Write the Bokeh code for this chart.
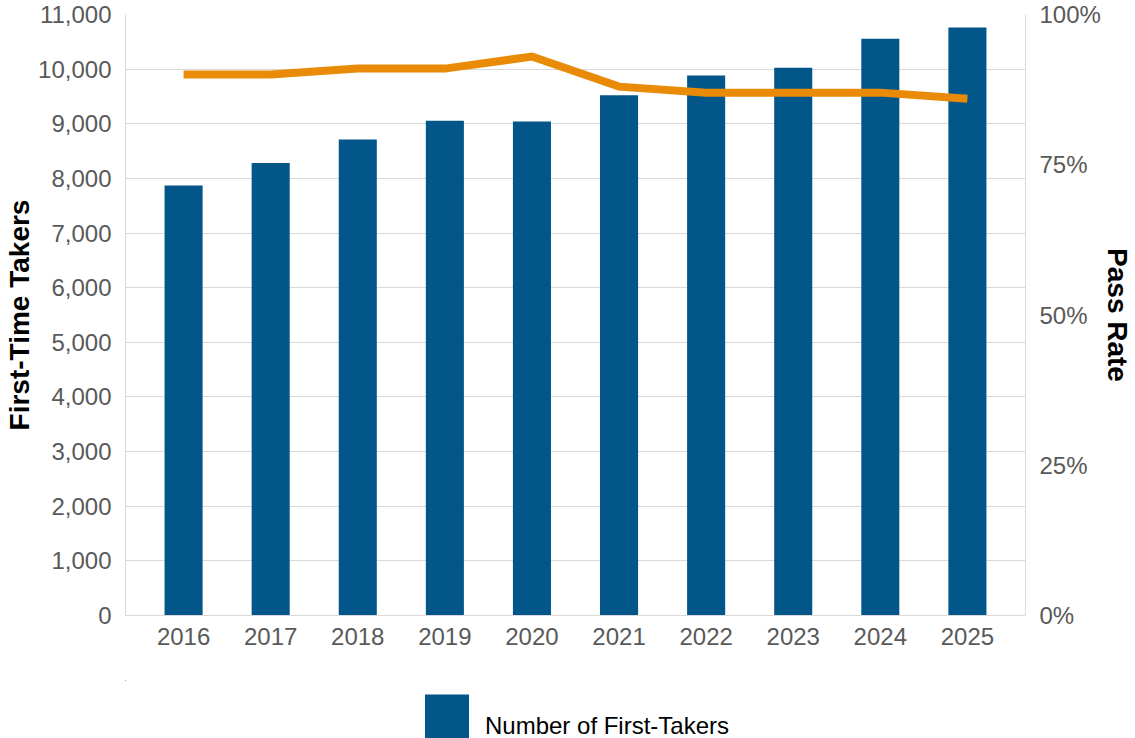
from bokeh.plotting import figure
from bokeh.layouts import column
from bokeh.models import (Range1d, LinearAxis, FixedTicker, NumeralTickFormatter,
                          Legend, LegendItem, ColumnDataSource)
from bokeh.embed import file_html
from bokeh.resources import INLINE

# ---- data ----
years = [2016, 2017, 2018, 2019, 2020, 2021, 2022, 2023, 2024, 2025]
first_takers = [7870, 8280, 8710, 9055, 9040, 9520, 9885, 10025, 10555, 10760]
pass_rate = [0.90, 0.90, 0.91, 0.91, 0.93, 0.88, 0.87, 0.87, 0.87, 0.86]
left_ticks = [0, 1000, 2000, 3000, 4000, 5000, 6000, 7000, 8000, 9000, 10000, 11000]
right_ticks = [0, 0.25, 0.5, 0.75, 1.0]
legend_label = "Number of First-Takers"

FONT = "Liberation Sans"
BAR = "#02568A"
ORANGE = "#E98B07"
GRID = "#D9D9D9"
TICK = "#595959"

src = ColumnDataSource(dict(year=years, takers=first_takers, rate=pass_rate))

p = figure(width=1135, height=680, output_backend="svg", toolbar_location=None,
           x_range=Range1d(years[0] - 0.667, years[-1] + 0.667),
           y_range=Range1d(0, 11000),
           min_border_left=125, min_border_right=110,
           min_border_top=14, min_border_bottom=65)
p.extra_y_ranges = {"rate": Range1d(0, 1)}
p.outline_line_color = None
p.background_fill_color = "white"
p.border_fill_color = "white"

bars = p.vbar(x="year", top="takers", width=0.437, source=src,
              fill_color=BAR, line_color=None)
p.line(x="year", y="rate", source=src, y_range_name="rate",
       line_color=ORANGE, line_width=8, line_join="miter")

# x axis
xa = p.xaxis[0]
xa.ticker = FixedTicker(ticks=years)
xa.axis_line_color = GRID
xa.major_tick_line_color = None
xa.minor_tick_line_color = None
xa.major_label_text_font = FONT
xa.major_label_text_font_size = "24px"
xa.major_label_text_color = TICK
xa.major_label_standoff = 6

# left axis
ya = p.yaxis[0]
ya.ticker = FixedTicker(ticks=left_ticks)
ya.formatter = NumeralTickFormatter(format="0,0")
ya.axis_line_color = GRID
ya.major_tick_line_color = None
ya.minor_tick_line_color = None
ya.major_label_text_font = FONT
ya.major_label_text_font_size = "24px"
ya.major_label_text_color = TICK
ya.major_label_standoff = 8
ya.axis_label = "First-Time Takers"
ya.axis_label_text_font = FONT
ya.axis_label_text_font_size = "28px"
ya.axis_label_text_font_style = "bold"
ya.axis_label_text_color = "black"
ya.axis_label_standoff = 0

# right axis
ra = LinearAxis(y_range_name="rate", ticker=FixedTicker(ticks=right_ticks),
                formatter=NumeralTickFormatter(format="0%"))
ra.axis_line_color = GRID
ra.major_tick_line_color = None
ra.minor_tick_line_color = None
ra.major_label_text_font = FONT
ra.major_label_text_font_size = "24px"
ra.major_label_text_color = TICK
ra.major_label_standoff = 8
ra.axis_label = "Pass Rate"
ra.axis_label_text_font = FONT
ra.axis_label_text_font_size = "28px"
ra.axis_label_text_font_style = "bold"
ra.axis_label_text_color = "black"
ra.axis_label_standoff = -2
p.add_layout(ra, "right")

p.xgrid.visible = False
p.ygrid.ticker = FixedTicker(ticks=left_ticks)
p.ygrid.grid_line_color = GRID
p.ygrid.grid_line_width = 1

# ---- legend strip (separate small figure below the chart, frame aligned) ----
# its bar renderer only supplies the legend swatch; its bars lie outside its ranges
lg = figure(width=1135, height=58, output_backend="svg", toolbar_location=None,
            x_range=Range1d(2030, 2031), y_range=Range1d(-2, -1),
            x_axis_type=None, y_axis_type=None,
            min_border_left=125, min_border_right=110, min_border_top=0, min_border_bottom=0)
lg.outline_line_color = None
lg.grid.visible = False
lg_bars = lg.vbar(x="year", top="takers", width=0, source=src,
                  fill_color=BAR, line_color=None)
legend = Legend(items=[LegendItem(label=legend_label, renderers=[lg_bars])],
                location=(294, -28), orientation="horizontal",
                glyph_width=55, glyph_height=80, label_standoff=11,
                label_text_font=FONT, label_text_font_size="24px",
                label_text_color="black", padding=0, margin=0, spacing=0,
                border_line_color=None, background_fill_alpha=0)
lg.add_layout(legend, "center")

layout = column(p, lg, spacing=0)
open("out.html", "w").write(file_html(layout, INLINE))
